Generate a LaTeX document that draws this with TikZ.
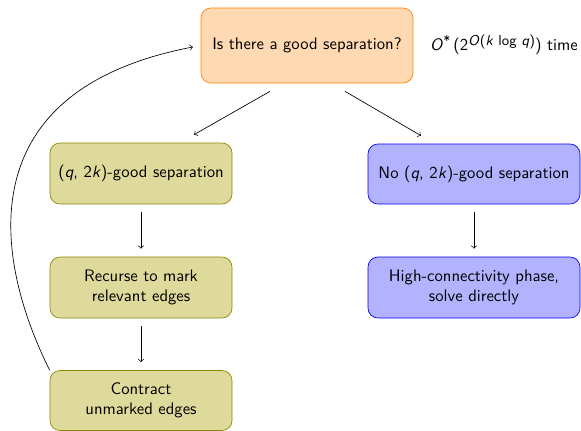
\documentclass[tikz,border=0pt]{standalone}
\usepackage{amsmath}
\usetikzlibrary{calc}
\begin{document}
\begin{tikzpicture}[x=0.6pt,y=-0.6pt,
  font=\sffamily,
  box/.style={draw, rounded corners=6pt, align=center, inner sep=2pt},
  askbox/.style={box, draw=orange, fill=orange!30, minimum width=127.2pt, minimum height=45pt},
  yesbox/.style={box, draw=olive, fill=olive!30, minimum width=109.2pt, minimum height=36.6pt},
  nobox/.style={box, draw=blue, fill=blue!30, minimum width=127.2pt, minimum height=36.6pt},
  flow/.style={->, shorten >=4.8pt},
  vflow/.style={->, shorten <=4.8pt, shorten >=4.8pt}
]
\useasboundingbox (0,0) rectangle (581,430);

% decision at the top
\node[askbox] (ask) at (307,45.5) {Is there a good separation?};
\node (cost) at (504,45) {\textit{O}\raisebox{3.4pt}{\fontsize{8}{9}\selectfont *}\,(2\raisebox{3.2pt}{\fontsize{8.6}{10}\selectfont\textit{O}(\textit{k} log \textit{q})})\ time};

% branch with a good separation
\node[yesbox] (good) at (141,173.5) {(\textit{q}, 2\textit{k})-good separation};
\node[yesbox] (mark) at (141,287.5) {Recurse to mark\\relevant edges};
\node[yesbox, minimum height=36pt] (contract) at (141,400.5) {Contract\\unmarked edges};

% branch without one
\node[nobox, minimum height=36pt] (nogood) at (474,174) {No (\textit{q}, 2\textit{k})-good separation};
\node[nobox] (direct) at (474,287.5) {High-connectivity phase,\\solve directly};

% connectors
\draw[->] ($(ask.south)+(-37,8)$) -- ($(good.north)+(53,-8)$);
\draw[->] ($(ask.south)+(38,8)$) -- ($(nogood.north)+(-53,-8)$);
\draw[vflow] (good) -- (mark);
\draw[vflow] (mark) -- (contract);
\draw[vflow] (nogood) -- (direct);

% loop back after contracting
\draw[flow] (contract.north west) .. controls +(-55,-110) and +(-235,45) .. (ask.west);
\end{tikzpicture}
\end{document}
